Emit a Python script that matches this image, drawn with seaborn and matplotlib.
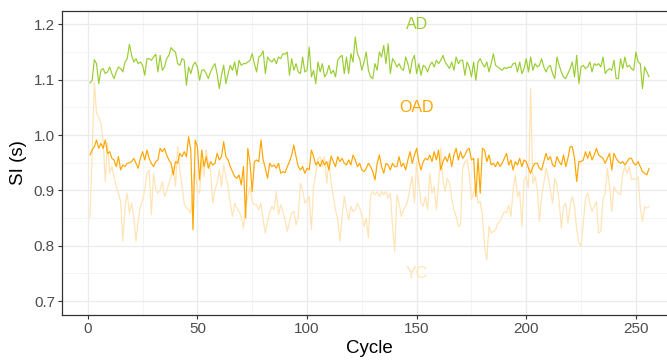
import numpy as np
import pandas as pd
import matplotlib
matplotlib.use("Agg")
import matplotlib.pyplot as plt
import seaborn as sns
from matplotlib.ticker import MultipleLocator

cycles = list(range(1, 257))

ad = [
    1.094, 1.099, 1.136, 1.129, 1.093, 1.117, 1.120, 1.111, 1.114, 1.123,
    1.111, 1.102, 1.114, 1.123, 1.120, 1.114, 1.132, 1.138, 1.164, 1.144,
    1.132, 1.138, 1.129, 1.132, 1.126, 1.108, 1.138, 1.138, 1.135, 1.141,
    1.146, 1.114, 1.144, 1.117, 1.123, 1.138, 1.144, 1.158, 1.153, 1.150,
    1.129, 1.126, 1.138, 1.135, 1.090, 1.123, 1.111, 1.126, 1.132, 1.123,
    1.099, 1.117, 1.118, 1.111, 1.102, 1.114, 1.123, 1.129, 1.111, 1.084,
    1.108, 1.126, 1.093, 1.111, 1.126, 1.117, 1.132, 1.108, 1.135, 1.126,
    1.129, 1.129, 1.132, 1.135, 1.147, 1.129, 1.114, 1.141, 1.144, 1.152,
    1.111, 1.141, 1.135, 1.132, 1.138,
    1.129, 1.141, 1.138, 1.147, 1.146,
    1.150, 1.108, 1.138, 1.117, 1.129, 1.114, 1.111, 1.141, 1.114, 1.117,
    1.159, 1.105, 1.117, 1.093, 1.132, 1.114, 1.129, 1.105, 1.111, 1.126,
    1.111, 1.117, 1.105, 1.135, 1.141, 1.144, 1.111, 1.141, 1.111, 1.147,
    1.132, 1.177, 1.147, 1.138, 1.117, 1.132, 1.150, 1.117,
    1.105, 1.102,
    1.129, 1.117, 1.150, 1.141, 1.162, 1.129, 1.165, 1.111, 1.138, 1.132,
    1.123, 1.129, 1.120, 1.117, 1.141, 1.129, 1.111, 1.135, 1.144, 1.111,
    1.129, 1.108, 1.126, 1.123, 1.114, 1.126, 1.132, 1.123, 1.135, 1.129,
    1.135, 1.144, 1.132, 1.126, 1.120, 1.132, 1.117, 1.141, 1.129, 1.135,
    1.135, 1.108, 1.132, 1.123, 1.105, 1.132, 1.099, 1.132, 1.138, 1.129,
    1.123, 1.132, 1.114, 1.129, 1.147, 1.126, 1.123, 1.120, 1.117, 1.122,
    1.120, 1.123, 1.122, 1.129, 1.130, 1.114, 1.132, 1.111, 1.120, 1.138,
    1.114, 1.141, 1.117, 1.129, 1.123, 1.126, 1.138, 1.123, 1.114, 1.123,
    1.126, 1.111,
    1.102, 1.141, 1.126, 1.114, 1.105, 1.102, 1.111, 1.120,
    1.132, 1.105, 1.144, 1.093, 1.123, 1.126, 1.120, 1.123, 1.132, 1.114,
    1.129, 1.126, 1.129, 1.123, 1.141, 1.111, 1.117, 1.120, 1.117, 1.135,
    1.102, 1.102, 1.138, 1.120, 1.141, 1.123, 1.126, 1.120, 1.117, 1.150,
    1.132, 1.129, 1.084, 1.123, 1.114, 1.105,
]

oad = [
    0.964, 0.973, 0.979, 0.991, 0.976, 0.985, 0.976, 0.991, 0.967, 0.970,
    0.958, 0.955, 0.943, 0.961, 0.937, 0.946, 0.943, 0.949, 0.950, 0.952,
    0.958, 0.949, 0.940, 0.958, 0.970, 0.955, 0.973, 0.958, 0.949, 0.943,
    0.952, 0.955, 0.976, 0.970, 0.976, 0.964, 0.955, 0.949, 0.928, 0.952,
    0.949, 0.967, 0.961, 0.970, 0.961, 0.997, 0.973, 0.829, 0.991, 0.979,
    0.919, 0.973, 0.943, 0.961, 0.940, 0.952, 0.946, 0.949, 0.967, 0.955,
    0.961, 0.988, 0.961, 0.955, 0.943, 0.934, 0.925, 0.922, 0.928, 0.910,
    0.943, 0.850, 0.976, 0.949, 0.898, 0.952, 0.955, 0.952, 0.991, 0.955,
    0.940, 0.922, 0.949, 0.943, 0.946,
    0.940, 0.949, 0.931, 0.934, 0.932,
    0.943, 0.952, 0.964, 0.982, 0.961, 0.943, 0.937, 0.943, 0.931, 0.940,
    0.937, 0.973, 0.961, 0.946, 0.952, 0.943, 0.955, 0.946, 0.952, 0.937,
    0.962, 0.952, 0.943, 0.961, 0.952, 0.958, 0.949, 0.946, 0.955, 0.946,
    0.964, 0.955, 0.943, 0.949, 0.937, 0.934,
    0.940, 0.949, 0.943, 0.934,
    0.919, 0.949, 0.964, 0.943, 0.931, 0.949, 0.946, 0.937, 0.949, 0.943,
    0.943, 0.961, 0.943, 0.949, 0.937, 0.955, 0.970, 0.949, 0.964, 0.976,
    0.952, 0.937, 0.952, 0.958, 0.955, 0.964, 0.952, 0.970, 0.955, 0.973,
    0.937, 0.952, 0.961, 0.952, 0.967, 0.943, 0.964, 0.976, 0.955, 0.970,
    0.958, 0.964, 0.973, 0.976, 0.955, 0.958, 0.889, 0.958, 0.895, 0.976,
    0.973, 0.952, 0.964, 0.946, 0.949, 0.943, 0.952, 0.943, 0.949, 0.958,
    0.967, 0.946, 0.955, 0.937, 0.952, 0.946, 0.958, 0.943, 0.955, 0.952,
    0.940, 0.931, 0.943, 0.949, 0.949, 0.940, 0.937, 0.952, 0.967, 0.955,
    0.961, 0.946,
    0.943, 0.961, 0.952, 0.946, 0.964, 0.943, 0.958, 0.979,
    0.979, 0.958, 0.916, 0.952, 0.952, 0.955, 0.970, 0.958, 0.970, 0.955,
    0.964, 0.976, 0.964, 0.961, 0.958, 0.949, 0.958, 0.967, 0.937, 0.967,
    0.958, 0.952, 0.949, 0.952, 0.946, 0.952, 0.958, 0.958, 0.949, 0.946,
    0.952, 0.943, 0.934, 0.931, 0.928, 0.940,
]

yc = [
    0.850, 0.967, 1.096, 1.039, 1.033, 1.021, 0.991, 0.916, 0.985, 0.931,
    0.943, 0.925, 0.907, 0.895, 0.880, 0.808, 0.871, 0.895, 0.859, 0.877,
    0.853, 0.808, 0.847, 0.871, 0.883, 0.901, 0.931, 0.937, 0.856, 0.931,
    0.901, 0.895, 0.901, 0.916, 0.889, 0.898, 0.913, 0.925, 0.943, 0.907,
    0.979, 0.937, 0.907, 0.877, 0.868, 0.865, 0.859, 0.916, 0.937, 0.901,
    0.895, 0.955, 0.925, 0.973, 0.949, 0.937, 0.877, 0.901, 0.913, 0.937,
    0.907, 0.946, 0.925, 0.907, 0.877, 0.853, 0.877, 0.868, 0.862, 0.853,
    0.832, 0.871, 0.889, 0.907, 0.880, 0.874, 0.874, 0.865, 0.877, 0.847,
    0.823, 0.844, 0.862, 0.871, 0.865,
    0.898, 0.856, 0.874, 0.862, 0.847,
    0.826, 0.844, 0.859, 0.862, 0.838, 0.853, 0.913, 0.901, 0.877, 0.883,
    0.889, 0.829, 0.907, 0.931, 0.958, 0.961, 0.943, 0.961, 0.913, 0.955,
    0.913, 0.889, 0.865, 0.847, 0.808, 0.853, 0.889, 0.865, 0.847, 0.871,
    0.862, 0.865, 0.877, 0.868, 0.856, 0.835,
    0.850, 0.814, 0.892, 0.898,
    0.892, 0.898, 0.889, 0.898, 0.892, 0.898, 0.886, 0.895, 0.835, 0.790,
    0.892, 0.877, 0.853, 0.865, 0.871, 0.883, 0.907, 0.925, 0.877, 0.952,
    0.913, 0.877, 0.871, 0.889, 0.865, 0.931, 0.895, 0.907, 0.865, 0.910,
    0.976, 0.919, 0.898, 0.922, 0.913, 0.886, 0.865, 0.853, 0.835, 0.838,
    0.940, 0.952, 0.955, 0.931, 0.883, 0.895, 0.913, 0.877, 0.880, 0.853,
    0.799, 0.775, 0.835, 0.823, 0.826, 0.829, 0.841, 0.844, 0.853, 0.862,
    0.859, 0.874, 0.853, 0.901, 0.928, 0.889, 0.898, 0.835, 0.919, 0.925,
    0.904, 1.084, 0.913, 0.925, 0.904, 0.844, 0.889, 0.913, 0.940, 0.925,
    0.901, 0.877,
    0.922, 0.910, 0.880, 0.832, 0.871, 0.877, 0.841, 0.871,
    0.889, 0.871, 0.829, 0.805, 0.799, 0.841, 0.886, 0.895, 0.877, 0.862,
    0.871, 0.880, 0.823, 0.826, 0.883, 0.895, 0.940, 0.907, 0.862, 0.907,
    0.898, 0.895, 0.892, 0.931, 0.943, 0.931, 0.943, 0.919, 0.922, 0.919,
    0.925, 0.868, 0.844, 0.871, 0.868, 0.871,
]

groups = ["YC", "OAD", "AD"]
colors = {"AD": "#9ACD32", "OAD": "#FFA500", "YC": "#FFE3B3"}
label_pos = {"AD": (150, 1.20), "OAD": (150, 1.05), "YC": (150, 0.75)}

df = pd.concat([
    pd.DataFrame({"Cycle": cycles, "SI": yc, "group": "YC"}),
    pd.DataFrame({"Cycle": cycles, "SI": oad, "group": "OAD"}),
    pd.DataFrame({"Cycle": cycles, "SI": ad, "group": "AD"}),
], ignore_index=True)

sns.set_theme(style="white")
plt.rcParams["font.family"] = ["Liberation Sans", "DejaVu Sans"]

W, H = 667, 360
fig = plt.figure(figsize=(W / 100, H / 100), dpi=100)
ax = fig.add_axes([62 / W, 45 / H, (677 - 62) / W, (315 - 10.5) / H])

for g in groups:
    sns.lineplot(data=df[df["group"] == g], x="Cycle", y="SI", color=colors[g],
                 linewidth=0.85, ax=ax, legend=False, zorder=3)
    x, y = label_pos[g]
    ax.text(x, y, g, color=colors[g], fontsize=11.5, ha="center", va="center", zorder=4)

ax.set_xlim(-11.75, 268.75)
ax.set_ylim(0.675, 1.225)
ax.xaxis.set_major_locator(MultipleLocator(50))
ax.xaxis.set_minor_locator(MultipleLocator(25))
ax.yaxis.set_major_locator(MultipleLocator(0.1))
ax.yaxis.set_minor_locator(MultipleLocator(0.05))
ax.set_yticks([0.7, 0.8, 0.9, 1.0, 1.1, 1.2])
ax.set_yticklabels(["0.7", "0.8", "0.9", "1.0", "1.1", "1.2"])

ax.grid(which="major", color="#EBEBEB", linewidth=0.9, zorder=0)
ax.grid(which="minor", color="#F2F2F2", linewidth=0.6, zorder=0)
ax.set_axisbelow(True)
for s in ax.spines.values():
    s.set_color("#333333")
    s.set_linewidth(0.9)
ax.tick_params(which="major", length=2.6, width=0.8, color="#333333",
               labelsize=11, labelcolor="#4D4D4D", pad=2.5,
               bottom=True, left=True)
ax.tick_params(which="minor", length=0)

ax.set_xlabel("Cycle", fontsize=13.5, color="black", labelpad=3)
ax.set_ylabel("SI (s)", fontsize=13.5, color="black", labelpad=5)

fig.savefig("out.png", dpi=100)
